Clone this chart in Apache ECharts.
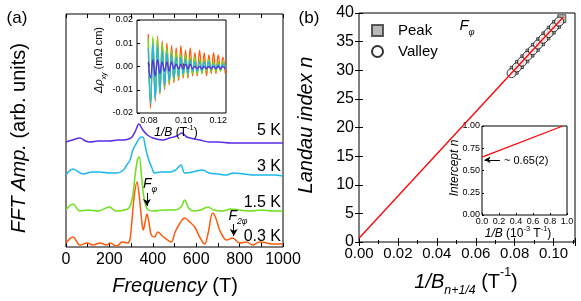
<!DOCTYPE html>
<html><head><meta charset="utf-8">
<script src="https://cdn.jsdelivr.net/npm/echarts@6/dist/echarts.min.js"></script>
<style>html,body{margin:0;padding:0;background:#fff}#c{width:581px;height:301px}</style>
</head><body><div id="c"></div>
<script>
// ---------- Panel (a): FFT amplitude vs frequency (T), arb. units ----------
const freq03 = [0,32,64,97,124,156,188,202,235,258,285,295,304,315,327,338,348,356,364,373,382,393,408,423,449,485,501,520,547,570,593,616,639,655,676,692,708,740,768,800,832,860,892,924,960,1000];
const amp03  = [4,10,2,4,2,4,2,4,1,5,4,8,27,52,65,50,28,17,24,33,25,12,10,15,10,5,14,22,29,25,20,10,3,14,34,28,17,7,9,4,5,2,5,4,3,3];
const freq15 = [0,32,64,100,150,200,230,270,290,305,318,330,338,348,358,368,380,400,450,500,530,547,565,585,620,655,680,720,760,800,850,900,950,1000];
const amp15  = [1,7,0,1,0,4,0,1,3,12,35,52,54,35,15,5,1,0,1,1,4,11,3,0,1,4,1,0,2,1,0,1,0,0];
const freq3  = [0,32,78,120,156,200,235,265,280,295,308,325,340,354,365,377,396,409,440,480,505,530,547,584,630,660,700,740,770,820,870,920,960,1000];
const amp3   = [1,7,2,4,4,3,3,6,11,16,26,33,38,39,30,19,8,3,4,4,6,11,3,4,6,3,2,1,3,2,1,1,1,0];
const freq5  = [0,30,64,90,110,150,202,240,262,290,304,320,336,354,375,400,446,478,510,534,557,590,616,660,700,760,820,900,1000];
const amp5   = [1,3,5,2,1,2,2,3,3,4,6,12,19,13,8,5,3,5,7,10,6,4,3,1,1,0,0,0,0];
const tempLabels = ['0.3 K','1.5 K','3 K','5 K'];
const curveOffsets = [0, 36, 71, 104];
const freqTicks = [0,200,400,600,800,1000];

// ---------- Inset (a): Δρxy vs 1/B ----------
const invB = [0.0795,0.08085,0.0822,0.08355,0.0849,0.08625,0.0876,0.08895,0.0903,0.09165,0.0930,0.09435,0.0957,0.09705,0.0984,0.09975,0.1011,0.10245,0.1038,0.10515,0.1065,0.10785,0.1092,0.11055,0.1119,0.11325,0.1146,0.11595,0.1173,0.11865,0.1200,0.12135,0.1227,0.12405];
const rho03 = [0.014,-0.018,0.012,-0.015,0.013,-0.012,0.011,-0.010,0.010,-0.008,0.009,-0.007,0.008,-0.006,0.009,-0.005,0.007,-0.005,0.008,-0.004,0.006,-0.004,0.007,-0.003,0.006,-0.004,0.005,-0.003,0.006,-0.003,0.005,-0.002,0.004,-0.003];
const rho15 = [0.012,-0.016,0.013,-0.014,0.012,-0.011,0.010,-0.009,0.008,-0.007,0.007,-0.006,0.006,-0.005,0.005,-0.004,0.005,-0.004,0.004,-0.003,0.004,-0.003,0.003,-0.003,0.003,-0.002,0.003,-0.002,0.002,-0.002,0.002,-0.002,0.002,-0.001];
const rho3  = [0.008,-0.016,0.010,-0.014,0.009,-0.011,0.007,-0.008,0.006,-0.006,0.005,-0.005,0.004,-0.004,0.004,-0.003,0.003,-0.003,0.003,-0.002,0.002,-0.002,0.002,-0.002,0.002,-0.001,0.002,-0.001,0.001,-0.001,0.001,-0.001,0.001,-0.001];
const rho5  = [0.002,-0.005,0.003,-0.004,0.003,-0.003,0.002,-0.002,0.002,-0.002,0.002,-0.001,0.001,-0.001,0.001,-0.001,0.001,-0.001,0.001,-0.001,0.000,-0.001,0.000,-0.001,0.000,-0.001,0.000,-0.001,0.000,-0.001,0.000,-0.001,0.000,-0.001];
const insetTicksX = [0.08,0.10,0.12];

// ---------- Panel (b): Landau fan ----------
const peakN   = [30,31,32,33,34,35,36,37,38,39];
const peakX   = [0.07976,0.08247,0.08519,0.08791,0.09063,0.09334,0.09606,0.09878,0.10149,0.10421];
const valleyN = [29.5,30.5,31.5,32.5,33.5,34.5,35.5,36.5,37.5,38.5];
const valleyX = [0.07840,0.08111,0.08383,0.08655,0.08927,0.09198,0.09470,0.09742,0.10014,0.10285];
const fitX = [0, 0.105];
const fitN = [0.65, 39.3];
// Inset (b): intercept vs 1/B
const intX = [0, 0.95];
const intN = [0.65, 1.0];

const COLORS = ['#ff5a0a','#6ee01a','#1ab8ee','#5a2de6'];
const FONT = '"Liberation Sans", Arial, sans-serif';
const zip = (xs, ys, off) => xs.map((x, i) => [x, ys[i] + (off || 0)]);

const chart = echarts.init(document.getElementById('c'), null, {renderer:'canvas', width:581, height:301});

function richSet(size){
  return {
    n:{fontSize:size, fontFamily:FONT, lineHeight:size*1.5, fill:'#000'},
    i:{fontSize:size, fontFamily:FONT, fontStyle:'italic', lineHeight:size*1.5, fill:'#000'},
    s:{fontSize:size*0.62, fontFamily:FONT, fontStyle:'italic', lineHeight:size*0.62, verticalAlign:'bottom', fill:'#000'},
    p:{fontSize:size*0.62, fontFamily:FONT, lineHeight:size*0.62, verticalAlign:'top', fill:'#000'}
  };
}
function T(x, y, text, size, opt){
  opt = opt || {};
  return {type:'text', x:x, y:y, rotation:opt.rot||0, z:100, silent:true,
    style:{text:text, fontSize:size, fontFamily:FONT, fill:'#000', align:opt.align||'center', verticalAlign:'middle', rich:richSet(size)}};
}

const tick = (len, inside) => ({show:true, inside:inside!==false, length:len, lineStyle:{color:'#000', width:1}});
const noLine = {show:false};
const lab = (size, margin, fmt) => ({show:true, fontSize:size, fontFamily:FONT, color:'#000', margin:margin, formatter:fmt});

const series = [];
const fftData = [[freq03,amp03],[freq15,amp15],[freq3,amp3],[freq5,amp5]];
[3,2,1,0].forEach(k => {
  series.push({type:'line', name:tempLabels[k], xAxisIndex:0, yAxisIndex:0, data:zip(fftData[k][0], fftData[k][1], curveOffsets[k]),
    showSymbol:false, smooth:0.35, lineStyle:{color:COLORS[k], width:1.5}, z:2+ (3-k),
    markLine: k===0 ? {silent:true, symbol:['none','arrow'], symbolSize:[6,7], label:{show:false},
      lineStyle:{color:'#000', width:1, type:'solid'},
      data:[[{coord:[373,54]},{coord:[373,41]}],[{coord:[773,23]},{coord:[773,11]}]]} : undefined});
});
const rhoData = [rho03, rho15, rho3, rho5];
[0,1,2,3].forEach(k => {
  series.push({type:'line', xAxisIndex:2, yAxisIndex:1, data:zip(invB, rhoData[k]), showSymbol:false, smooth:0.4,
    lineStyle:{color:COLORS[k], width:1.3}, z:2+k});
});
series.push({type:'scatter', name:'Peak', xAxisIndex:3, yAxisIndex:2, data:zip(peakX, peakN), symbol:'rect', symbolSize:8,
  itemStyle:{color:'#a6a6a6', borderColor:'#333', borderWidth:1}, z:2});
series.push({type:'scatter', name:'Valley', xAxisIndex:3, yAxisIndex:2, data:zip(valleyX, valleyN), symbol:'circle', symbolSize:9,
  itemStyle:{color:'#fff', borderColor:'#000', borderWidth:1}, z:3});
series.push({type:'line', xAxisIndex:3, yAxisIndex:2, data:zip(fitX, fitN), showSymbol:false, lineStyle:{color:'#ff0000', width:1.3}, z:4});
series.push({type:'line', xAxisIndex:5, yAxisIndex:4, data:zip(intX, intN), showSymbol:false, lineStyle:{color:'#ff0000', width:1.2}, z:4,
  markLine:{silent:true, symbol:['none','arrow'], symbolSize:[5,6], label:{show:false}, lineStyle:{color:'#000', width:1, type:'solid'},
    data:[[{coord:[0.21,0.62]},{coord:[0.03,0.62]}]]}});

const option = {
  animation:false,
  backgroundColor:'#fff',
  grid:[
    {left:66, top:14, width:217, height:233, show:true, borderColor:'#000', borderWidth:1, backgroundColor:'transparent'},
    {left:137, top:20, width:89, height:93, show:true, borderColor:'#000', borderWidth:1, backgroundColor:'#fff'},
    {left:359, top:13, width:216, height:229, show:true, borderColor:'#000', borderWidth:1, backgroundColor:'transparent'},
    {left:482, top:126, width:85, height:89, show:true, borderColor:'#000', borderWidth:1, backgroundColor:'#fff'}
  ],
  xAxis:[
    {gridIndex:0, type:'value', min:0, max:1000, interval:100, axisLine:noLine, splitLine:{show:false}, axisTick:tick(4),
      axisLabel:lab(16, 5, v => freqTicks.indexOf(v) >= 0 ? String(v) : '')},
    {gridIndex:0, type:'value', position:'top', min:0, max:1000, interval:100, axisLine:noLine, splitLine:{show:false}, axisTick:tick(4), axisLabel:{show:false}},
    {gridIndex:1, type:'value', min:0.073, max:0.1245, axisLine:noLine, splitLine:{show:false},
      axisTick:{show:true, inside:true, length:3, customValues:insetTicksX, lineStyle:{color:'#000'}},
      axisLabel:Object.assign(lab(9, 3, v => v.toFixed(2)), {customValues:insetTicksX})},
    {gridIndex:2, type:'value', min:0, max:0.111, interval:0.02, axisLine:noLine, splitLine:{show:false}, axisTick:tick(4),
      minorTick:{show:true, splitNumber:2, length:2, lineStyle:{color:'#000'}},
      axisLabel:Object.assign(lab(15, 4, v => v.toFixed(2)), {showMaxLabel:false})},
    {gridIndex:2, type:'value', position:'top', min:0, max:0.111, interval:0.02, axisLine:noLine, splitLine:{show:false}, axisTick:tick(4),
      minorTick:{show:true, splitNumber:2, length:2, lineStyle:{color:'#000'}}, axisLabel:{show:false}},
    {gridIndex:3, type:'value', min:0, max:1, interval:0.2, axisLine:noLine, splitLine:{show:false}, axisTick:tick(2),
      axisLabel:lab(9, 2, v => v.toFixed(1))}
  ],
  yAxis:[
    {gridIndex:0, type:'value', min:0, max:233, axisLine:noLine, splitLine:{show:false}, axisTick:{show:false}, axisLabel:{show:false}},
    {gridIndex:1, type:'value', min:-0.02, max:0.02, interval:0.01, axisLine:noLine, splitLine:{show:false}, axisTick:tick(3),
      axisLabel:lab(9, 4, v => v.toFixed(2))},
    {gridIndex:2, type:'value', min:0, max:40, interval:5, axisLine:noLine, splitLine:{show:false}, axisTick:tick(4),
      axisLabel:lab(16, 5)},
    {gridIndex:2, type:'value', position:'right', min:0, max:40, interval:5, axisLine:noLine, splitLine:{show:false}, axisTick:tick(4), axisLabel:{show:false}},
    {gridIndex:3, type:'value', min:0, max:1, interval:0.25, axisLine:noLine, splitLine:{show:false}, axisTick:tick(2),
      axisLabel:lab(9, 2, v => v.toFixed(2))}
  ],
  legend:{data:['Peak','Valley'], orient:'vertical', left:366, top:18, itemWidth:11, itemHeight:11, itemGap:6, selectedMode:false,
    textStyle:{fontSize:15, fontFamily:FONT, color:'#000', padding:[0,0,0,10]}},
  series:series,
  graphic:[
    T(17, 18, '(a)', 17),
    T(309, 18, '(b)', 17),
    T(19, 138, '{i|FFT Amp.}{n| (arb. units)}', 20, {rot:Math.PI/2}),
    T(175, 286, '{i|Frequency}{n| (T)}', 20),
    T(281, 131, tempLabels[3], 16, {align:'right'}),
    T(281, 167, tempLabels[2], 16, {align:'right'}),
    T(281, 203, tempLabels[1], 16, {align:'right'}),
    T(281, 237, tempLabels[0], 16, {align:'right'}),
    T(150, 184, '{i|F}{s|φ}', 14),
    T(238, 216, '{i|F}{s|2φ}', 14),
    T(99, 60, '{i|Δρ}{s|xy}{n| (mΩ cm)}', 11, {rot:Math.PI/2}),
    T(176, 133, '{i|1/B}{n| (T}{p|-1}{n|)}', 12),
    T(306, 125, '{i|Landau index n}', 20, {rot:Math.PI/2}),
    T(466, 282, '{i|1/B}{s|n+1/4}{n| (T}{p|-1}{n|)}', 20),
    T(467, 26, '{i|F}{s|φ}', 15),
    T(455, 168, '{i|Intercept n}', 12, {rot:Math.PI/2}),
    T(518, 234, '{i|1/B}{n| (10}{p|-3}{n| T}{p|-1}{n|)}', 12),
    T(504, 161, '{n|~ 0.65(2)}', 11, {align:'left'})
  ]
};
chart.setOption(option);
</script></body></html>
